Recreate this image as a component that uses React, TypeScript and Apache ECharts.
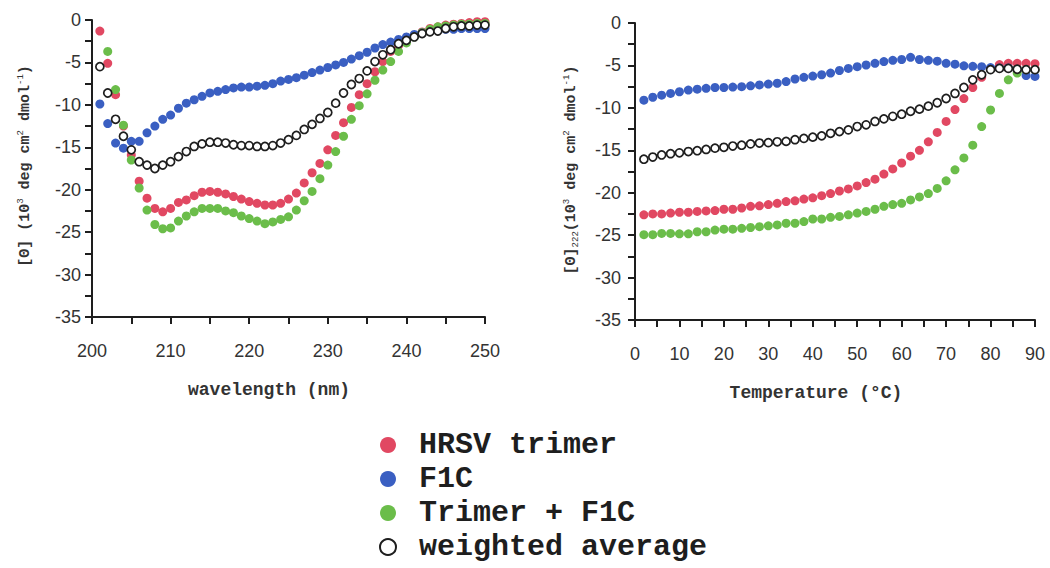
import React, { useEffect, useRef } from "react";
import * as echarts from "echarts";

// ---------- DATA ----------
const wavelengths = [
  201, 202, 203, 204, 205, 206, 207, 208, 209, 210, 211, 212, 213, 214, 215, 216, 217, 218, 219, 220,
  221, 222, 223, 224, 225, 226, 227, 228, 229, 230, 231, 232, 233, 234, 235, 236, 237, 238, 239, 240,
  241, 242, 243, 244, 245, 246, 247, 248, 249, 250,
];
const specTrimer = [
  -1.3, -5.1, -8.8, -12.5, -15.9, -19.0, -21.0, -22.2, -22.6, -22.2, -21.5, -21.2, -20.7, -20.3, -20.2, -20.3, -20.5, -20.8, -21.1, -21.4,
  -21.6, -21.8, -21.8, -21.6, -21.1, -20.4, -19.2, -18.0, -16.9, -15.3, -13.6, -12.1, -10.3, -8.8, -7.5, -6.1, -4.9, -3.7, -3.0, -2.3,
  -1.8, -1.4, -1.0, -0.8, -0.6, -0.5, -0.4, -0.3, -0.2, -0.2,
];
const specF1C = [
  -9.9, -12.2, -14.5, -15.1, -14.3, -14.3, -13.3, -12.5, -11.7, -11.2, -10.4, -9.8, -9.4, -9.0, -8.6, -8.4, -8.2, -8.0, -7.9, -7.9,
  -7.8, -7.7, -7.5, -7.2, -7.0, -6.8, -6.5, -6.2, -5.9, -5.6, -5.3, -5.0, -4.6, -4.2, -3.8, -3.3, -2.9, -2.6, -2.3, -2.0,
  -1.7, -1.5, -1.3, -1.2, -1.1, -1.1, -1.0, -1.0, -1.0, -1.0,
];
const specComplex = [
  null, -3.7, -8.2, -12.4, -16.5, -19.8, -22.4, -24.1, -24.6, -24.5, -23.7, -23.1, -22.6, -22.2, -22.2, -22.2, -22.5, -22.7, -23.1, -23.4,
  -23.7, -24.0, -23.8, -23.5, -23.2, -22.4, -21.3, -20.2, -18.7, -17.1, -15.5, -13.7, -11.7, -10.1, -8.7, -7.1, -5.9, -4.9, -3.7, -2.7,
  -2.0, -1.5, -1.1, -0.8, -0.7, -0.6, -0.5, -0.5, -0.4, -0.4,
];
const specAverage = [
  -5.5, -8.6, -11.7, -13.7, -15.3, -16.7, -17.1, -17.5, -17.1, -16.7, -16.1, -15.5, -14.9, -14.6, -14.4, -14.4, -14.5, -14.7, -14.8, -14.8,
  -14.9, -14.9, -14.8, -14.5, -14.1, -13.6, -12.9, -12.3, -11.6, -10.9, -9.8, -8.6, -7.6, -6.9, -6.0, -4.9, -4.1, -3.5, -2.8, -2.4,
  -2.0, -1.6, -1.4, -1.3, -1.0, -0.8, -0.7, -0.7, -0.6, -0.6,
];

const temperatures = [
  2, 4, 6, 8, 10, 12, 14, 16, 18, 20, 22, 24, 26, 28, 30, 32, 34, 36, 38, 40, 42, 44, 46,
  48, 50, 52, 54, 56, 58, 60, 62, 64, 66, 68, 70, 72, 74, 76, 78, 80, 82, 84, 86, 88, 90,
];
const meltTrimer = [
  -22.6, -22.5, -22.5, -22.4, -22.3, -22.3, -22.2, -22.15, -22.1, -21.95, -21.95, -21.8, -21.6, -21.55, -21.4, -21.25, -21.05, -20.95, -20.75, -20.6, -20.35, -20.1, -19.8,
  -19.55, -19.2, -18.8, -18.4, -17.8, -17.2, -16.5, -15.7, -15.0, -14.0, -12.9, -11.6, -10.2, -8.9, -7.6, -6.4, -5.4, -4.9, -4.75, -4.75, -4.75, -4.8,
];
const meltF1C = [
  -9.1, -8.75, -8.5, -8.3, -8.1, -7.9, -7.8, -7.7, -7.6, -7.6, -7.55, -7.5, -7.4, -7.3, -7.2, -7.1, -6.9, -6.6, -6.4, -6.25, -6.1, -5.9, -5.6,
  -5.35, -5.15, -4.95, -4.75, -4.55, -4.4, -4.3, -4.05, -4.3, -4.4, -4.5, -4.75, -4.85, -5.05, -5.1, -5.15, -5.25, -5.3, -5.3, -5.5, -6.2, -6.3,
];
const meltComplex = [
  -24.95, -24.95, -24.8, -24.8, -24.85, -24.85, -24.6, -24.6, -24.4, -24.3, -24.3, -24.2, -24.1, -24.0, -23.9, -23.8, -23.6, -23.6, -23.4, -23.1, -23.1, -22.9, -22.8,
  -22.6, -22.4, -22.2, -21.95, -21.6, -21.4, -21.25, -20.85, -20.5, -20.1, -19.5, -18.6, -17.3, -15.9, -14.4, -12.2, -10.25, -8.3, -6.7, -5.9, -5.5, -5.5,
];
const meltAverage = [
  -16.05, -15.8, -15.55, -15.4, -15.3, -15.15, -15.05, -14.9, -14.75, -14.65, -14.5, -14.4, -14.25, -14.15, -14.1, -14.0, -13.95, -13.75, -13.6, -13.45, -13.3, -13.0, -12.8,
  -12.6, -12.2, -12.0, -11.6, -11.3, -11.0, -10.75, -10.4, -10.15, -9.8, -9.4, -8.9, -8.3, -7.6, -6.7, -6.1, -5.5, -5.35, -5.35, -5.45, -5.5, -5.5,
];

const seriesNames = ["HRSV trimer", "F1C", "Trimer + F1C", "weighted average"];
const yTicks = { min: -35, max: 0, interval: 5 };
const wlTicks = { min: 200, max: 250, interval: 10 };
const tTicks = { min: 0, max: 90, interval: 10 };

// ---------- STYLE ----------
const RED = "#e14862";
const BLUE = "#3a5fc2";
const GREEN = "#6bbd4a";
const INK = "#1e1e1e";
const MONO = "'Liberation Mono', 'Courier New', monospace";
const SANS = "'Liberation Sans', Arial, sans-serif";

const pairs = (xs: number[], ys: (number | null)[]) =>
  xs.map((x, i) => [x, ys[i]]).filter((p) => p[1] !== null);

const axisCommon = {
  type: "value" as const,
  axisLine: { show: true, onZero: false, lineStyle: { color: INK, width: 2 } },
  axisTick: { show: true, length: 7, lineStyle: { color: INK, width: 2 } },
  minorTick: { show: true, splitNumber: 2, length: 7, lineStyle: { color: INK, width: 2 } },
  splitLine: { show: false },
  minorSplitLine: { show: false },
};

const labelStyle = { fontFamily: SANS, fontSize: 18, color: "#333" };

export default function App() {
  const ref = useRef<HTMLDivElement>(null);
  useEffect(() => {
    if (!ref.current) return;
    const chart = echarts.init(ref.current, undefined, { renderer: "svg" });

    const filled = (name: string, color: string, x: number, data: any[]) => ({
      name,
      type: "scatter",
      xAxisIndex: x,
      yAxisIndex: x,
      symbol: "circle",
      symbolSize: 9,
      itemStyle: { color, opacity: 1 },
      data,
    });
    const open = (name: string, x: number, data: any[]) => ({
      name,
      type: "scatter",
      xAxisIndex: x,
      yAxisIndex: x,
      symbol: "circle",
      symbolSize: 8,
      itemStyle: { color: "#ffffff", borderColor: INK, borderWidth: 1.7, opacity: 1 },
      data,
    });

    const option: any = {
      animation: false,
      backgroundColor: "#ffffff",
      grid: [
        { left: 92, top: 20, width: 393, height: 297 },
        { left: 635, top: 23, width: 400, height: 297 },
      ],
      xAxis: [
        { ...axisCommon, gridIndex: 0, ...wlTicks, axisLabel: { ...labelStyle, margin: 25 } },
        { ...axisCommon, gridIndex: 1, ...tTicks, axisLabel: { ...labelStyle, margin: 25 } },
      ],
      yAxis: [
        { ...axisCommon, gridIndex: 0, ...yTicks, axisLabel: { ...labelStyle, margin: 11 } },
        { ...axisCommon, gridIndex: 1, ...yTicks, axisLabel: { ...labelStyle, margin: 14 } },
      ],
      legend: {
        orient: "vertical",
        left: 379,
        top: 430,
        width: 400,
        height: 136,
        padding: 0,
        itemWidth: 16,
        itemHeight: 16,
        itemGap: 4,
        icon: "circle",
        formatter: (n: string) => " " + n,
        textStyle: { fontFamily: MONO, fontWeight: "bold", fontSize: 30, lineHeight: 30, color: INK },
        data: seriesNames,
      },
      series: [
        filled(seriesNames[0], RED, 0, pairs(wavelengths, specTrimer)),
        filled(seriesNames[1], BLUE, 0, pairs(wavelengths, specF1C)),
        filled(seriesNames[2], GREEN, 0, pairs(wavelengths, specComplex)),
        open(seriesNames[3], 0, pairs(wavelengths, specAverage)),
        filled(seriesNames[0], RED, 1, pairs(temperatures, meltTrimer)),
        filled(seriesNames[1], BLUE, 1, pairs(temperatures, meltF1C)),
        filled(seriesNames[2], GREEN, 1, pairs(temperatures, meltComplex)),
        open(seriesNames[3], 1, pairs(temperatures, meltAverage)),
      ],
      graphic: [
        {
          type: "text",
          x: 269,
          y: 390,
          style: {
            text: "wavelength (nm)",
            fontFamily: MONO,
            fontWeight: "bold",
            fontSize: 18,
            fill: "#333",
            align: "center",
            verticalAlign: "middle",
          },
        },
        {
          type: "text",
          x: 816,
          y: 393,
          style: {
            text: "Temperature (°C)",
            fontFamily: MONO,
            fontWeight: "bold",
            fontSize: 18,
            fill: "#333",
            align: "center",
            verticalAlign: "middle",
          },
        },
        {
          type: "text",
          x: 25,
          y: 166,
          rotation: Math.PI / 2,
          style: {
            text: "[Θ] (10{sup|3} deg cm{sup|2} dmol{sup|-1})",
            fontFamily: MONO,
            fontWeight: "bold",
            fontSize: 15,
            lineHeight: 18,
            fill: "#333",
            align: "center",
            verticalAlign: "middle",
            rich: {
              sup: { fontFamily: MONO, fontSize: 9, verticalAlign: "top", lineHeight: 18, fill: "#333" },
            },
          },
        },
        {
          type: "text",
          x: 571,
          y: 170,
          rotation: Math.PI / 2,
          style: {
            text: "[Θ]{sub|222}(10{sup|3} deg cm{sup|2} dmol{sup|-1})",
            fontFamily: MONO,
            fontWeight: "bold",
            fontSize: 15,
            lineHeight: 18,
            fill: "#333",
            align: "center",
            verticalAlign: "middle",
            rich: {
              sup: { fontFamily: MONO, fontSize: 9, verticalAlign: "top", lineHeight: 18, fill: "#333" },
              sub: { fontFamily: MONO, fontSize: 9, verticalAlign: "bottom", lineHeight: 18, fill: "#333" },
            },
          },
        },
      ],
    };
    chart.setOption(option);
    return () => chart.dispose();
  }, []);

  return (
    <div
      ref={ref}
      style={{ position: "fixed", left: 0, top: 0, width: 1050, height: 568, background: "#fff" }}
    />
  );
}
